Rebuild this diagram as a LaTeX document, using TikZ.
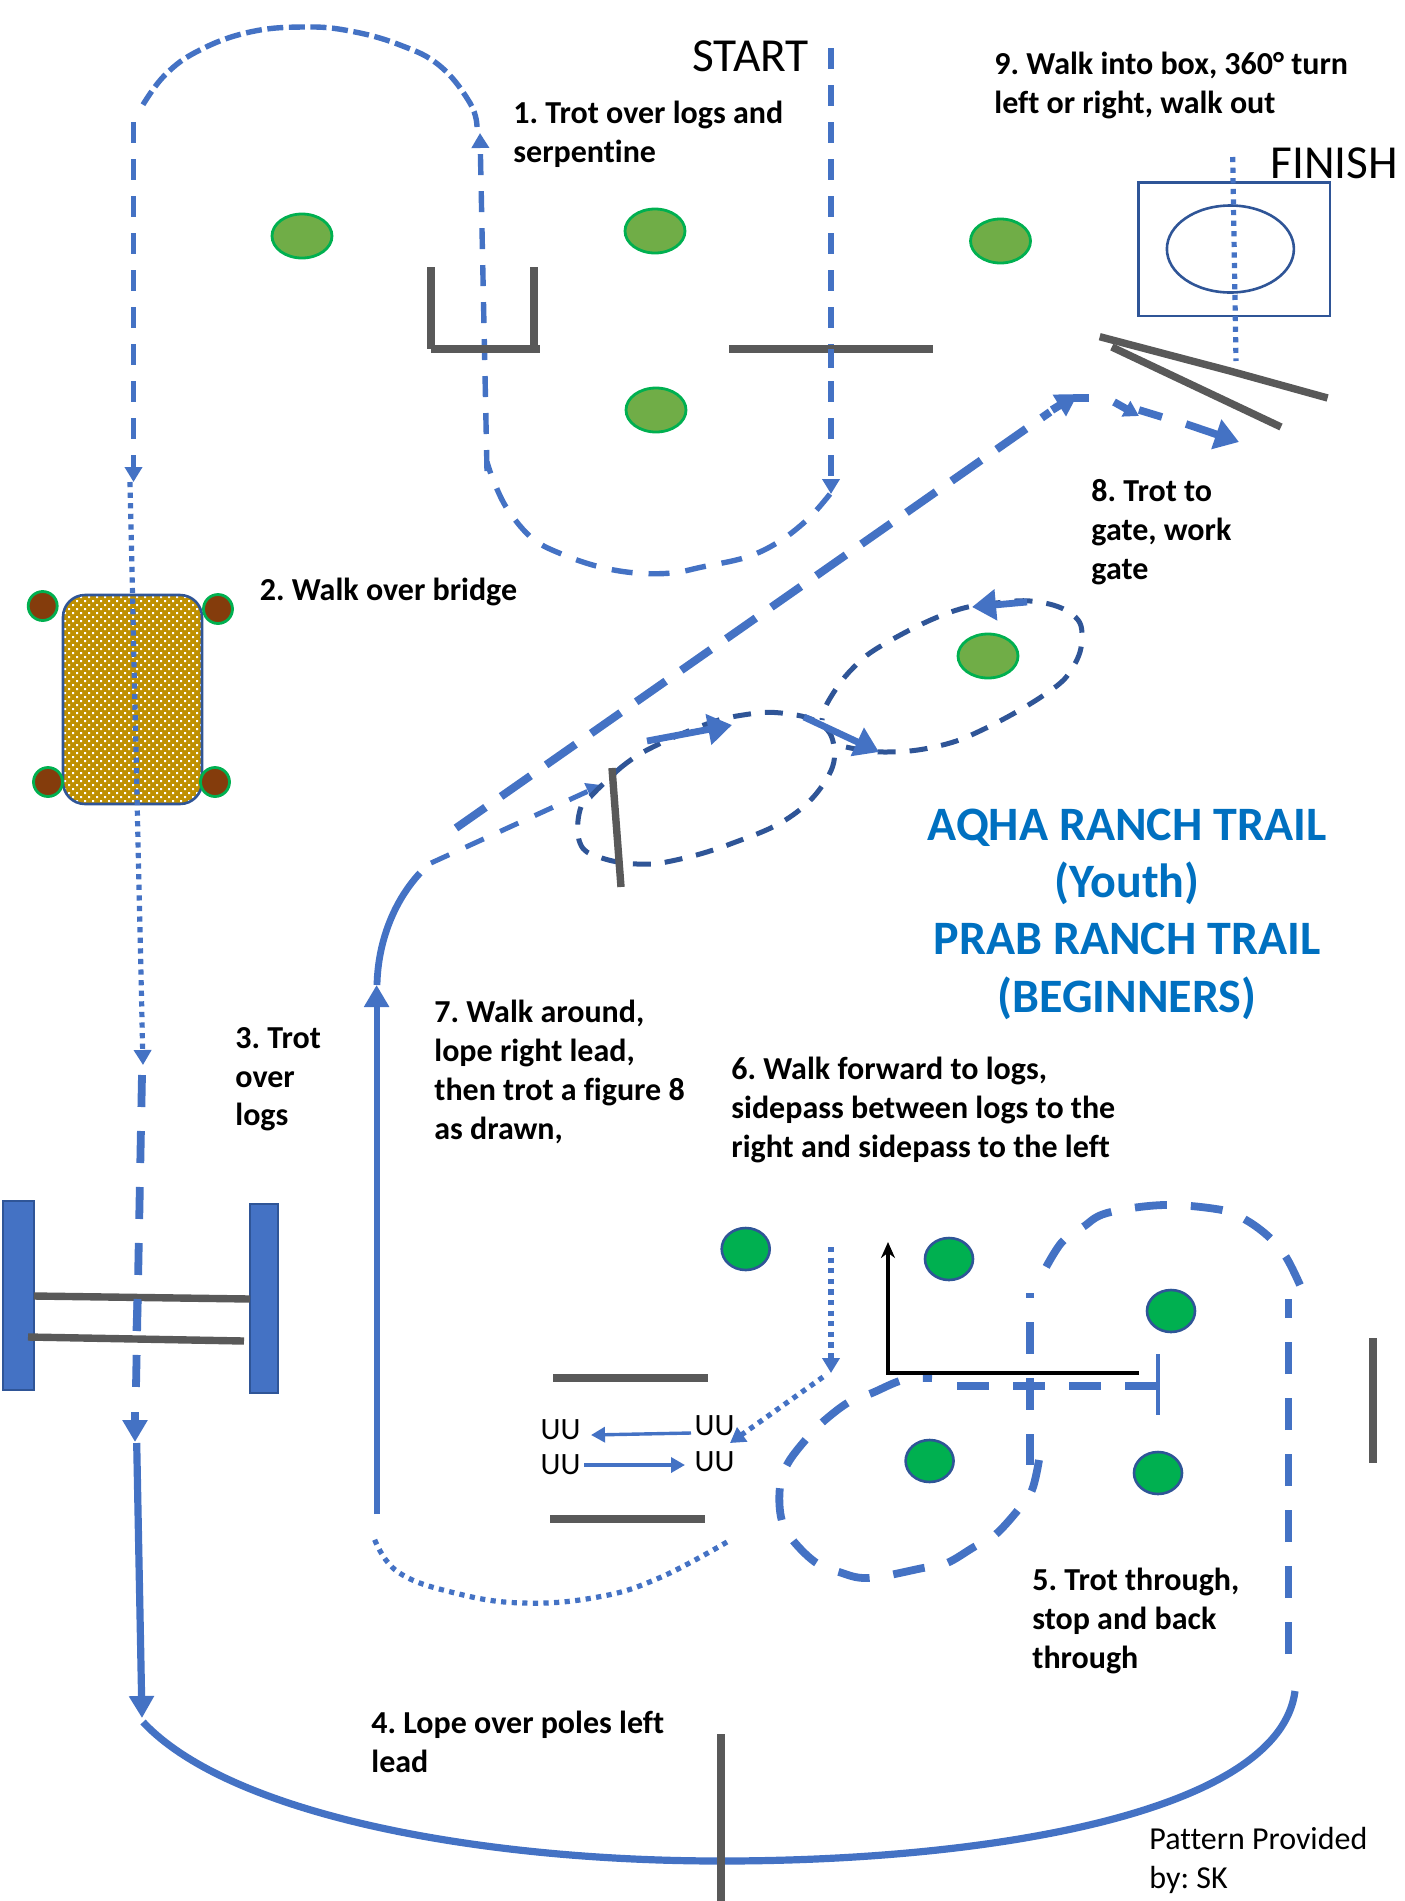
\documentclass[tikz,border=0pt]{standalone}
\usepackage{fontspec}
\setmainfont[Ligatures=NoCommon]{Carlito}
\usetikzlibrary{arrows.meta,shapes.geometric}
\definecolor{trailblue}{HTML}{4472C4}
\definecolor{darkblue}{HTML}{2F5597}
\definecolor{loggray}{HTML}{595959}
\definecolor{conegreen}{HTML}{70AD47}
\definecolor{brightgreen}{HTML}{00B050}
\definecolor{bridgegold}{HTML}{BF9000}
\definecolor{postbrown}{HTML}{843C0C}
\definecolor{titleblue}{HTML}{0070C0}
\tikzset{
  note/.style={anchor=north west, inner sep=0pt, align=left, font=\fontsize{16}{19.4}\selectfont\bfseries},
  bigword/.style={anchor=west, inner sep=0pt, font=\fontsize{23.7}{27}\selectfont},
  log/.style={draw=loggray, line width=3.7pt},
  conea/.style={ellipse, fill=conegreen, draw=brightgreen, line width=1.4pt, inner sep=0pt, minimum width=30pt, minimum height=22pt},
  coneb/.style={ellipse, fill=brightgreen, draw=darkblue, line width=1.3pt, inner sep=0pt, minimum width=24pt, minimum height=21pt},
  post/.style={circle, fill=postbrown, draw=brightgreen, line width=1.4pt, inner sep=0pt, minimum size=14.5pt},
  walk/.style={trailblue, line width=2.6pt, dash pattern=on 2.6pt off 2.7pt},
  trot/.style={trailblue, line width=2.7pt, dash pattern=on 10.5pt off 8pt},
  fat/.style={trailblue, line width=3.9pt, dash pattern=on 16pt off 12pt},
  eight/.style={darkblue, line width=2.5pt, dash pattern=on 9pt off 7pt},
  small/.style={-{Triangle[length=7.5pt,width=8.5pt]}},
  big/.style={-{Triangle[length=11pt,width=12pt]}},
  bighead/.style={-{Triangle[length=12pt,width=15pt]}},
  uu/.style={inner sep=0pt, font=\fontsize{15.5}{17}\selectfont}
}
\begin{document}
\frenchspacing
\begin{tikzpicture}[x=0.5pt, y=-0.5pt, line cap=butt]
  \useasboundingbox (0,0) rectangle (1404,1901);
  % 1 - start, serpentine
  \draw[trot, small] (831,48) -- (831,494);
  \draw[trot] plot[smooth, tension=0.6] coordinates {(830,494) (809,518) (780,541) (747,557) (702,567) (672,573) (636,573) (600,567) (564,555) (533,539) (508,510) (494,482) (487,462)};
  \draw[trot, small] (487,471) -- (480,133);
  \draw[trot, dash pattern=on 8pt off 2.8pt] plot[smooth, tension=0.7] coordinates {(477,127) (470,103) (440,66) (400,45) (350,31) (304,27) (250,32) (200,50) (165,75) (141,108)};
  \draw[trot, small] (133.5,122) -- (133.5,482);
  % Baumstaemme oben
  \draw[log] (431,267) -- (431,349);
  \draw[log] (534,267) -- (534,349);
  \draw[log] (431,349) -- (540,349);
  \draw[log] (729,349) -- (933,349);
  \draw[trot] (831,349) -- (831,368);
  % Kegel oben
  \node[conea] (conea1) at (302,236) {};
  \node[conea] (conea2) at (655,231) {};
  \node[conea] (conea3) at (656,410) {};
  \node[conea] (conea4) at (1000.5,241) {};
  % 9 - Box
  \draw[darkblue, line width=1.3pt] (1138.6,182.4) rectangle (1330,316);
  \node[ellipse, draw=darkblue, line width=1.3pt, inner sep=0pt, minimum width=63.5pt, minimum height=43.5pt] (turn) at (1230.4,249) {};
  \draw[walk] (1232.7,157) -- (1236,361);
  % Tor
  \draw[log] (1099.7,336.7) -- (1230,371) -- (1327.6,398);
  \draw[log] (1111.8,347) -- (1281,427);
  % 2 - Bruecke
  \fill[bridgegold, rounded corners=11pt] (63,595) rectangle (202,804);
  \begin{scope}
    \clip[rounded corners=11pt] (63,595) rectangle (202,804);
    \fill[white] \foreach \dotx in {60,68,...,204} {\foreach \doty in {592,600,...,808} {(\dotx,\doty) rectangle ++(2,2) (\dotx+4,\doty+4) rectangle ++(2,2)}};
  \end{scope}
  \draw[darkblue, line width=1.3pt, rounded corners=11pt] (63,595) rectangle (202,804);
  \node[post] (post1) at (42.7,606) {};
  \node[post] (post2) at (218,609) {};
  \node[post] (post3) at (48,782) {};
  \node[post] (post4) at (215,782) {};
  \draw[walk, small] (130,482) -- (143,1065);
  % 3 - Staemme
  \draw[fill=trailblue, draw=darkblue, line width=1pt] (2.7,1200.7) rectangle (34,1390);
  \draw[fill=trailblue, draw=darkblue, line width=1pt] (250,1204) rectangle (278,1393);
  \draw[fat] (142,1075) -- (136,1387);
  \draw[log] (34,1296) -- (250,1299);
  \draw[log] (28,1337) -- (244,1341);
  \draw[fat] (137.5,1299) -- (136.5,1331);
  \draw[trailblue, line width=3.9pt, -{Triangle[length=11pt,width=12pt]}] (135,1412) -- (135,1442);
  % 4 - Bogen links
  \draw[trailblue, line width=3.6pt, big] (136.7,1443) -- (142,1718);
  \draw[trailblue, line width=3.6pt] (143,1722) .. controls (230,1815) and (480,1861) .. (721,1861) .. controls (1000,1861) and (1280,1810) .. (1295,1691);
  \draw[log] (721,1734) -- (721,1901);
  \draw[fat] (1288.5,1654) -- (1288.5,1299);
  % 5 - durch die Kegel
  \draw[fat] plot[smooth, tension=0.6] coordinates {(1300,1285) (1286,1257) (1269,1237) (1246,1220) (1222,1210) (1164,1205) (1107,1213) (1083,1227) (1062,1242) (1045.6,1268)};
  \draw[trailblue, line width=3.9pt] (1030,1293) -- (1030,1298);
  \draw[fat] (1030,1322) -- (1030,1465);
  \draw[fat] plot[smooth, tension=0.6] coordinates {(1039,1460) (1032,1490) (1018,1510) (995,1535) (974,1547) (947,1563) (923,1568) (869,1578) (839,1572) (815,1562) (791,1538) (781,1517) (780,1487) (788,1463) (808,1437) (825,1420) (849,1402) (872,1393) (903,1380) (932,1378)};
  \draw[fat] (957,1386) -- (1157,1386);
  \draw[trailblue, line width=2pt] (1158,1354) -- (1158,1415);
  \draw[black, line width=1.6pt, -{Stealth[length=8pt,width=7pt]}] (1139,1373) -- (888,1373) -- (888,1242);
  \node[coneb] (coneb1) at (745.7,1249) {};
  \node[coneb] (coneb2) at (949,1259) {};
  \node[coneb] (coneb3) at (1171,1311) {};
  \node[coneb] (coneb4) at (929.6,1461) {};
  \node[coneb] (coneb5) at (1158,1473) {};
  \draw[log] (1373,1338) -- (1373,1463);
  % 6 - seitwaerts
  \draw[log] (553,1378) -- (708,1378);
  \draw[log] (550,1519) -- (705,1519);
  \draw[walk, small] (831,1247) -- (831,1373);
  \draw[walk, small] (823,1377) -- (730,1443);
  \node[uu] (uu1) at (560.5,1430) {UU};
  \node[uu] (uu2) at (714.5,1426) {UU};
  \node[uu] (uu3) at (560.5,1465) {UU};
  \node[uu] (uu4) at (714.5,1462) {UU};
  \coordinate (uuback) at (691,1433);
  \coordinate (uubackend) at (591,1435);
  \coordinate (uuover) at (584,1465);
  \coordinate (uuoverend) at (685,1465);
  \draw[trailblue, line width=1.7pt, -{Triangle[length=7pt,width=7.5pt]}] (uuback) -- (uubackend);
  \draw[trailblue, line width=1.7pt, -{Triangle[length=7pt,width=7.5pt]}] (uuover) -- (uuoverend);
  % 7 - Figur 8
  \draw[walk] plot[smooth, tension=0.7] coordinates {(727,1542) (659,1578) (598,1597) (523,1603) (455,1593) (398,1572) (374,1538)};
  \draw[trailblue, line width=3pt, big] (376.6,1514) -- (376.6,985);
  \draw[trailblue, line width=3.4pt] (377,985) .. controls (378,940) and (395,900) .. (420,873);
  \draw[trailblue, line width=2.5pt, dash pattern=on 10pt off 9pt, small] (431,863) -- (601.6,785);
  \draw[eight] plot[smooth, tension=0.7] coordinates {(618,770) (647,750) (704,725) (743,715) (781,713) (819,723) (834,747) (826,780) (790,817) (733,843) (676,860) (637,864) (599,857) (580,843) (580,810) (594,793) (618,770)};
  \draw[eight] plot[smooth, tension=0.7] coordinates {(846,747) (884,752) (934,747) (982,730) (1047,693) (1073,667) (1082,637) (1073,615) (1039,602) (996,603) (948,613) (886,643) (853,668) (829,700) (822,720)};
  \draw[trailblue, line width=3.4pt, bighead] (647,741) -- (732,725);
  \draw[trailblue, line width=3.4pt, bighead] (804,717) -- (879,752);
  \draw[trailblue, line width=3.4pt, bighead] (1027,602) -- (972,607);
  \draw[log] (612,768) -- (621,887);
  \node[conea] (conea5) at (988,656) {};
  % 8 - zum Tor
  \draw[trailblue, line width=4pt, dash pattern=on 18pt off 9.5pt] (456,828) -- (1050,412);
  \draw[trailblue, line width=4pt, big] (1052,410) -- (1078,394);
  \draw[trailblue, line width=3.6pt] (1073,398) -- (1089,398);
  \draw[trailblue, line width=3.8pt, small] (1114,402) -- (1139,416);
  \draw[trailblue, line width=3.8pt] (1139,410) -- (1162,417);
  \draw[trailblue, line width=3.8pt, bighead] (1186,424) -- (1239,442);
  % Beschriftungen
  \node[bigword] (start) at (692,56) {START};
  \node[bigword] (finish) at (1270,163) {FINISH};
  \node[note] (step1) at (513,101) {1. Trot over logs and\\serpentine};
  \node[note] (step2) at (259.5,578) {2. Walk over bridge};
  \node[note] (step3) at (235,1027) {3. Trot\\over\\logs};
  \node[note] (step4) at (371,1711) {4. Lope over poles left\\lead};
  \node[note] (step5) at (1032,1568) {5. Trot through,\\stop and back\\through};
  \node[note] (step6) at (731,1057) {6. Walk forward to logs,\\sidepass between logs to the\\right and sidepass to the left};
  \node[note] (step7) at (434,1000) {7. Walk around,\\lope right lead,\\then trot a figure 8\\as drawn,};
  \node[note] (step8) at (1091,479) {8. Trot to\\gate, work\\gate};
  \node[note] (step9) at (994,52) {9. Walk into box, 360° turn\\left or right, walk out};
  \node[anchor=north west, inner sep=0pt, align=left, font=\fontsize{16}{19.4}\selectfont] (credit) at (1149,1827) {Pattern Provided\\by: SK};
  \node[text=titleblue, align=center, inner sep=0pt, font=\fontsize{24}{28.7}\selectfont\bfseries] (title) at (1127,914) {AQHA RANCH TRAIL\\(Youth)\\PRAB RANCH TRAIL\\(BEGINNERS)};
\end{tikzpicture}
\end{document}
